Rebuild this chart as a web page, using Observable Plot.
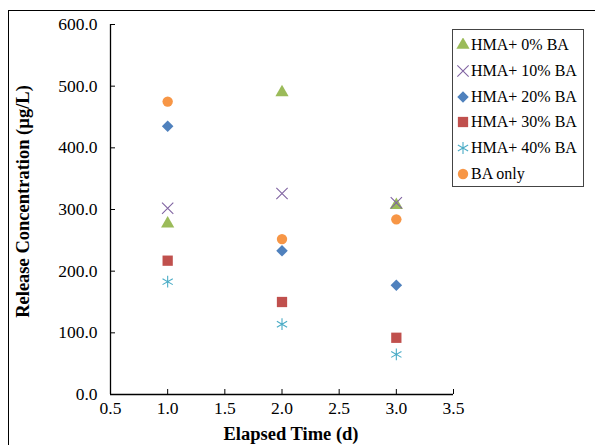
<!DOCTYPE html>
<html><head><meta charset="utf-8">
<script src="https://cdn.jsdelivr.net/npm/d3@7"></script>
<script src="https://cdn.jsdelivr.net/npm/@observablehq/plot@0.6"></script>
<style>
body{margin:0;background:#fff;}
#wrap{position:relative;width:595px;height:445px;overflow:hidden;font-family:"Liberation Serif","Times New Roman",serif;background:#fff;}
#wrap svg.plot{position:absolute;left:0;top:0;}
#frame{position:absolute;left:8px;top:10px;width:800px;height:800px;border-left:1.5px solid #000;border-top:1.5px solid #000;pointer-events:none;}
#legend{position:absolute;left:452px;top:29px;width:132px;height:158px;border:1px solid #444;background:#fff;box-sizing:border-box;}
.row{position:absolute;left:0;height:20px;display:flex;align-items:center;font-size:16px;color:#000;white-space:nowrap;}
.row svg{margin-left:3px;margin-right:1px;}
</style></head>
<body>
<div id="wrap"></div>
<script>
const days = [1.0, 2.0, 3.0];
const seriesNames = ["HMA+ 0% BA", "HMA+ 10% BA", "HMA+ 20% BA", "HMA+ 30% BA", "HMA+ 40% BA", "BA only"];
const hma0 = [277, 490, 307];
const hma10 = [302, 326, 311];
const hma20 = [435, 233, 177];
const hma30 = [217, 150, 92];
const hma40 = [183, 114, 65];
const baOnly = [475, 252, 284];
const seriesColors = ["#9BBB59", "#8064A2", "#4F81BD", "#C0504D", "#4BACC6", "#F79646"];
const seriesSymbols = ["triangle", "times", "diamond2", "square", "asterisk", "circle"];
const symbolRadius = {triangle: 4.9, times: 5.2, diamond2: 5.2, square: 5.8, asterisk: 5.6, circle: 5.2};
const strokedSymbols = ["times", "asterisk"];
const xTicks = [0.5, 1.0, 1.5, 2.0, 2.5, 3.0, 3.5];
const yTicks = [0, 100, 200, 300, 400, 500, 600];
const xTitle = "Elapsed Time (d)";
const yTitle = "Release Concentration (µg/L)";

const allValues = [hma0, hma10, hma20, hma30, hma40, baOnly];
const data = [];
seriesNames.forEach((s, i) => days.forEach((d, j) => data.push({series: s, day: d, value: allValues[i][j]})));

const dotMarks = seriesNames.map((s, i) => {
  const sym = seriesSymbols[i];
  const rows = data.filter(d => d.series === s);
  return strokedSymbols.includes(sym)
    ? Plot.dot(rows, {x: "day", y: "value", symbol: "series", stroke: "series", r: symbolRadius[sym], strokeWidth: 1.1})
    : Plot.dot(rows, {x: "day", y: "value", symbol: "series", fill: "series", r: symbolRadius[sym]});
});

const chart = Plot.plot({
  width: 595, height: 445,
  marginLeft: 110, marginRight: 142, marginTop: 24, marginBottom: 51,
  style: {fontFamily: "Liberation Serif, Times New Roman, serif", fontSize: "17.5px", color: "#000", background: "transparent", overflow: "visible"},
  x: {domain: [xTicks[0], xTicks[xTicks.length - 1]]},
  y: {domain: [yTicks[0], yTicks[yTicks.length - 1]]},
  color: {domain: seriesNames, range: seriesColors},
  symbol: {domain: seriesNames, range: seriesSymbols},
  marks: [
    Plot.axisX({ticks: xTicks, tickFormat: d => d.toFixed(1), tickSize: -5, tickPadding: 12, label: null, stroke: "#000"}),
    Plot.axisY({ticks: yTicks, tickFormat: d => d.toFixed(1), tickSize: -5, tickPadding: 18, label: null, stroke: "#000"}),
    Plot.ruleX([xTicks[0]], {stroke: "#000", strokeWidth: 1.3}),
    Plot.ruleY([yTicks[0]], {stroke: "#000", strokeWidth: 1.3}),
    ...dotMarks,
    Plot.text([xTitle], {frameAnchor: "bottom", dx: 9, dy: 45, fontWeight: "bold", fontSize: 18.5, fill: "#000"}),
    Plot.text([yTitle], {frameAnchor: "left", textAnchor: "middle", dx: -87, dy: -8, rotate: -90, fontWeight: "bold", fontSize: 18.5, fill: "#000"})
  ]
});
const wrap = document.getElementById("wrap");
wrap.appendChild(chart);

// legend
const legend = document.createElement("div");
legend.id = "legend";
const symMap = {triangle: d3.symbolTriangle, times: d3.symbolTimes, diamond2: d3.symbolDiamond2, square: d3.symbolSquare, asterisk: d3.symbolAsterisk, circle: d3.symbolCircle};
seriesNames.forEach((s, i) => {
  const row = document.createElement("div");
  row.className = "row";
  row.style.top = (5 + i * 25.8) + "px";
  const sym = seriesSymbols[i];
  const svg = d3.create("svg").attr("width", 14).attr("height", 14);
  const r = symbolRadius[sym];
  const p = svg.append("path").attr("transform", "translate(7,7)").attr("d", d3.symbol(symMap[sym], r * r * Math.PI)());
  if (strokedSymbols.includes(sym)) p.attr("fill", "none").attr("stroke", seriesColors[i]).attr("stroke-width", 1.1);
  else p.attr("fill", seriesColors[i]);
  row.appendChild(svg.node());
  const t = document.createElement("span");
  t.textContent = s;
  row.appendChild(t);
  legend.appendChild(row);
});
wrap.appendChild(legend);
const frame = document.createElement("div");
frame.id = "frame";
wrap.appendChild(frame);
</script>
</body></html>
